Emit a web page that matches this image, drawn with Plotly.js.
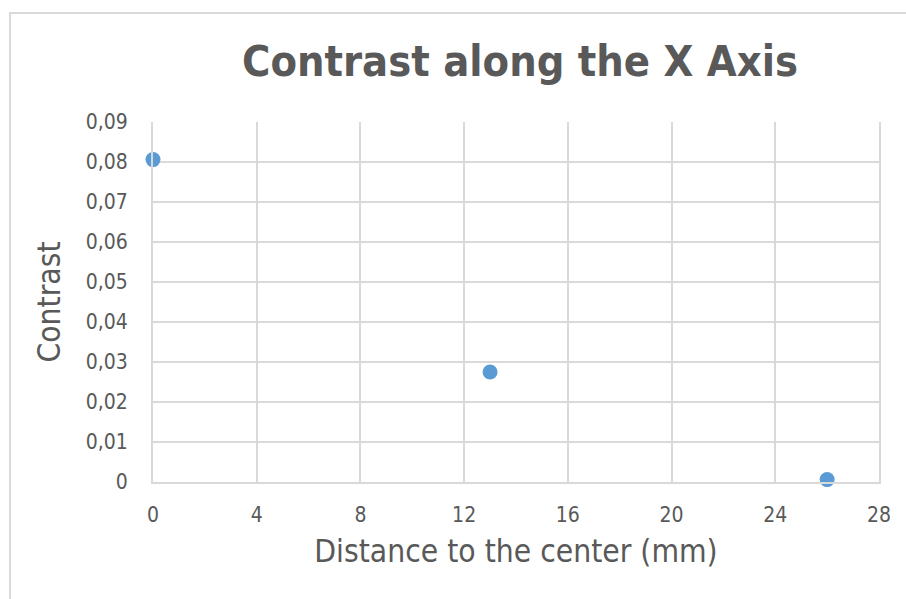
<!DOCTYPE html>
<html>
<head>
<meta charset="utf-8">
<script src="https://cdn.plot.ly/plotly-3.0.1.min.js"></script>
<style>
  html, body { margin: 0; padding: 0; background: #ffffff; }
  #wrap { position: relative; width: 906px; height: 599px; overflow: hidden; }
  #chart { position: absolute; left: 0; top: 0; width: 906px; height: 599px; }
  /* outer chart frame, clipped at the right and bottom edges */
  #frame { position: absolute; left: 9px; top: 12px; width: 1000px; height: 700px;
           border-left: 2px solid #d9d9d9; border-top: 2px solid #d9d9d9; box-sizing: border-box;
           pointer-events: none; }
</style>
</head>
<body>
<div id="wrap">
  <div id="chart"></div>
  <div id="frame"></div>
</div>
<script>
// Measured contrast at each distance from the center
const distanceMm = [0, 13, 26];
const contrast = [0.0806, 0.0275, 0.0006];

// Axis ticks and their labels (decimal comma)
const xTickVals = [0, 4, 8, 12, 16, 20, 24, 28];
const xTickText = ['0', '4', '8', '12', '16', '20', '24', '28'];
const yTickVals = [0, 0.01, 0.02, 0.03, 0.04, 0.05, 0.06, 0.07, 0.08, 0.09];
const yTickText = ['0', '0,01', '0,02', '0,03', '0,04', '0,05', '0,06', '0,07', '0,08', '0,09'];

const FONT = '"DejaVu Sans Condensed", "DejaVu Sans", sans-serif';
const TEXT = '#595959';
const GRID = '#d9d9d9';

const trace = {
  type: 'scatter',
  mode: 'markers',
  x: distanceMm,
  y: contrast,
  marker: { color: '#5b9bd5', size: 15 },
  cliponaxis: false,
  hoverinfo: 'x+y'
};

const layout = {
  width: 906,
  height: 599,
  margin: { l: 153, r: 27, t: 122, b: 117 },
  paper_bgcolor: 'rgba(0,0,0,0)',
  plot_bgcolor: '#ffffff',
  showlegend: false,
  font: { family: FONT, color: TEXT },
  title: {
    text: '<b>Contrast along the X Axis</b>',
    font: { family: FONT, size: 43, color: TEXT },
    xref: 'container', x: 0.574, xanchor: 'center',
    yref: 'container', y: 1 - 61 / 599, yanchor: 'middle'
  },
  xaxis: {
    range: [0, 28],
    tickmode: 'array',
    tickvals: xTickVals,
    ticktext: xTickText,
    showgrid: true, gridcolor: GRID, gridwidth: 2,
    zeroline: false,
    showline: true, linecolor: GRID, linewidth: 2,
    ticks: '',
    ticklabelstandoff: 13,
    tickfont: { family: FONT, size: 21, color: TEXT },
    title: { text: 'Distance to the center (mm)', font: { family: FONT, size: 31.5, color: TEXT }, standoff: 14 }
  },
  yaxis: {
    range: [0, 0.09],
    tickmode: 'array',
    tickvals: yTickVals,
    ticktext: yTickText,
    showgrid: true, gridcolor: GRID, gridwidth: 2,
    zeroline: false,
    showline: true, linecolor: GRID, linewidth: 2,
    mirror: true,
    ticks: '',
    ticklabelstandoff: 19,
    tickfont: { family: FONT, size: 21, color: TEXT },
    title: { text: 'Contrast', font: { family: FONT, size: 31.5, color: TEXT }, standoff: 16 }
  }
};

Plotly.newPlot('chart', [trace], layout, { displayModeBar: false, staticPlot: true });
</script>
</body>
</html>
